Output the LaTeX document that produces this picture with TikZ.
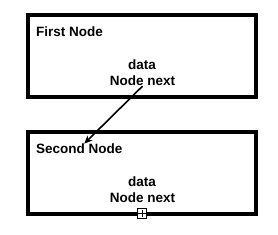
\documentclass[tikz,border=0pt]{standalone}
\usepackage{fontspec}
\setmainfont{Liberation Sans}
\usetikzlibrary{positioning,arrows.meta}

\begin{document}
\begin{tikzpicture}[
    x=1pt, y=1pt,
    box/.style={draw, line width=4pt, minimum width=228pt, minimum height=82pt},
    txt/.style={font=\fontsize{13.5}{16}\selectfont\bfseries, inner sep=0pt}
]
\useasboundingbox (0,0) rectangle (278,234);
\node[box] (first) at (142,178) {};
\node[box] (second) at (142,61) {};

\node[txt, anchor=west] (title1) at (36,202.5) {First Node};
\node[txt] (data1) at (142,169) {data};
\node[txt] (next1) at (142.5,153) {Node next};

\node[txt, anchor=west] (title2) at (36,85.5) {Second Node};
\node[txt] (data2) at (142,52) {data};
\node[txt] (next2) at (142.5,36) {Node next};

\draw[-{Stealth[length=8pt,width=7pt]}, line width=1.6pt, shorten >=7pt] (next1.south) -- (title2.center);

\node[draw, fill=white, line width=0.8pt, minimum size=9.5pt, inner sep=0pt] (plus) at (142,20.5) {};
\draw[line width=0.8pt] ([yshift=-1.2pt]plus.north) -- ([yshift=1.2pt]plus.south);
\draw[line width=0.8pt] ([xshift=1.2pt]plus.west) -- ([xshift=-1.2pt]plus.east);
\end{tikzpicture}
\end{document}
